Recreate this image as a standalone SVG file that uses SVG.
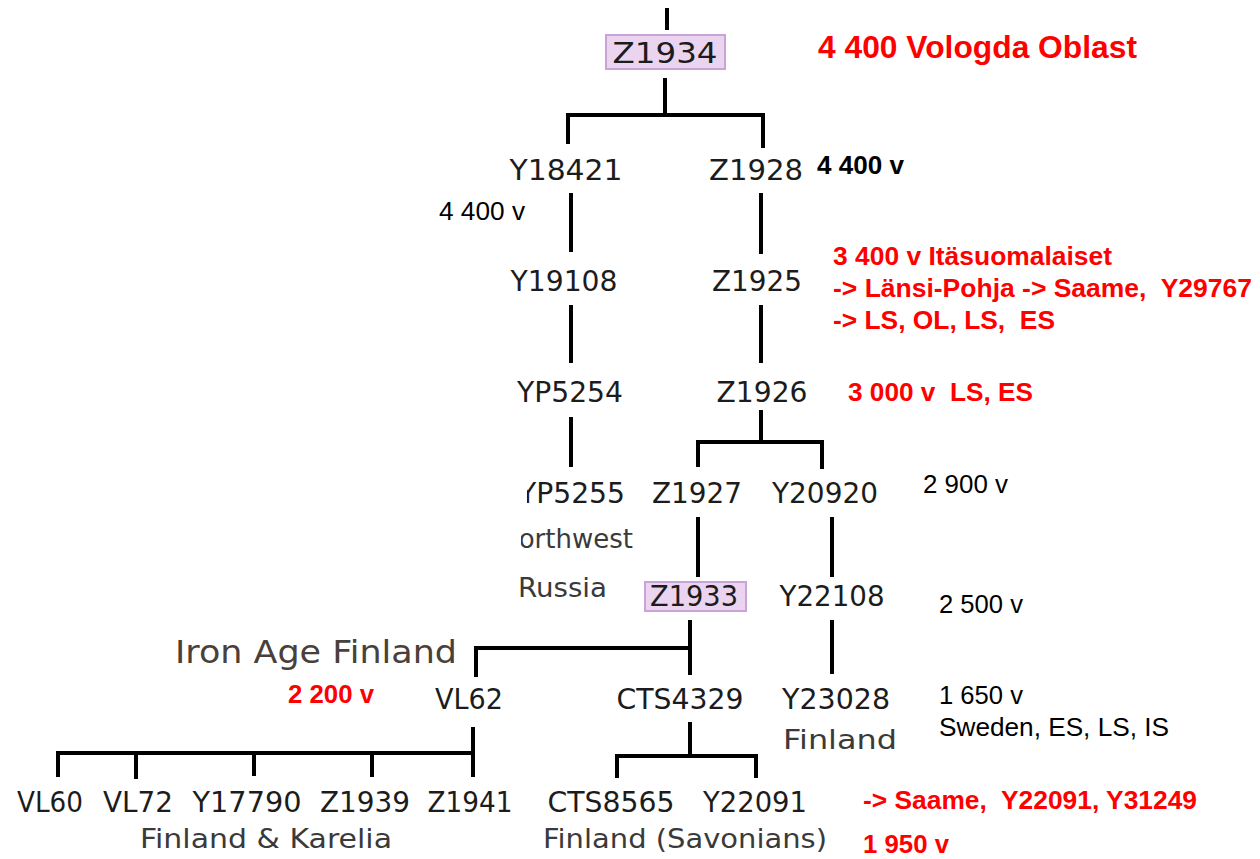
<svg xmlns="http://www.w3.org/2000/svg" width="1260" height="859" viewBox="0 0 1260 859" xml:space="preserve">
<style>
.n{font-family:"DejaVu Sans",sans-serif;font-size:29px;fill:#1c1c1c;text-anchor:middle}
.g{font-family:"DejaVu Sans",sans-serif;font-size:26px;fill:#3a3a3a}
.ia{font-family:"DejaVu Sans",sans-serif;font-size:32px;fill:#4a403a}
.k{font-family:"Liberation Sans",Arial,sans-serif;font-size:25px;fill:#000}
.kb{font-family:"Liberation Sans",Arial,sans-serif;font-size:25px;font-weight:bold;fill:#000}
.r{font-family:"Liberation Sans",Arial,sans-serif;font-size:25px;font-weight:bold;fill:#ff0000;white-space:pre}
.c line{stroke:#000;stroke-width:4;stroke-linecap:butt}
.box{fill:#ead4ef;stroke:#caa4d8;stroke-width:2}
</style>
<defs>
<clipPath id="clipP"><rect x="527" y="470" width="200" height="40"/></clipPath>
<clipPath id="clipN"><rect x="521" y="515" width="200" height="40"/></clipPath>
</defs>
<rect width="1260" height="859" fill="#fff"/>
<g id="connectors" class="c">
<line x1="667" y1="8" x2="667" y2="30"/>
<line x1="665" y1="78" x2="665" y2="115"/>
<line x1="566" y1="115" x2="765" y2="115"/>
<line x1="568" y1="113" x2="568" y2="144"/>
<line x1="763" y1="113" x2="763" y2="148"/>
<line x1="571" y1="193" x2="571" y2="252"/>
<line x1="761" y1="193" x2="761" y2="254"/>
<line x1="571" y1="305" x2="571" y2="363"/>
<line x1="761" y1="305" x2="761" y2="363"/>
<line x1="571" y1="417" x2="571" y2="467"/>
<line x1="761" y1="410" x2="761" y2="442"/>
<line x1="696" y1="442" x2="824" y2="442"/>
<line x1="698" y1="440" x2="698" y2="467"/>
<line x1="822" y1="440" x2="822" y2="469"/>
<line x1="698" y1="517" x2="698" y2="577"/>
<line x1="832" y1="517" x2="832" y2="577"/>
<line x1="690" y1="620" x2="690" y2="675"/>
<line x1="474" y1="648" x2="692" y2="648"/>
<line x1="476" y1="646" x2="476" y2="677"/>
<line x1="832" y1="620" x2="832" y2="674"/>
<line x1="473" y1="727" x2="473" y2="777"/>
<line x1="56" y1="753" x2="473" y2="753"/>
<line x1="58" y1="751" x2="58" y2="777"/>
<line x1="136" y1="753" x2="136" y2="779"/>
<line x1="254" y1="753" x2="254" y2="776"/>
<line x1="372" y1="753" x2="372" y2="777"/>
<line x1="690" y1="722" x2="690" y2="756"/>
<line x1="615" y1="756" x2="758" y2="756"/>
<line x1="617" y1="754" x2="617" y2="778"/>
<line x1="756" y1="754" x2="756" y2="778"/>
</g>
<g id="node-Z1934"><rect class="box" x="606" y="35" width="119" height="34"/><text class="n" x="665" y="63" textLength="105" lengthAdjust="spacingAndGlyphs">Z1934</text></g>
<g id="node-Y18421"><text class="n" x="566" y="180" textLength="113" lengthAdjust="spacingAndGlyphs">Y18421</text></g>
<g id="node-Z1928"><text class="n" x="756" y="180" textLength="94" lengthAdjust="spacingAndGlyphs">Z1928</text></g>
<g id="node-Y19108"><text class="n" x="564" y="291" textLength="107" lengthAdjust="spacingAndGlyphs">Y19108</text></g>
<g id="node-Z1925"><text class="n" x="757" y="291" textLength="90" lengthAdjust="spacingAndGlyphs">Z1925</text></g>
<g id="node-YP5254"><text class="n" x="570" y="402" textLength="106" lengthAdjust="spacingAndGlyphs">YP5254</text></g>
<g id="node-Z1926"><text class="n" x="762" y="402" textLength="91" lengthAdjust="spacingAndGlyphs">Z1926</text></g>
<g id="node-YP5255"><g clip-path="url(#clipP)"><text class="n" x="572" y="503" textLength="106" lengthAdjust="spacingAndGlyphs">YP5255</text></g><g clip-path="url(#clipN)"><text class="g" x="633" y="548" text-anchor="end">Northwest</text></g><text class="g" x="518" y="597" textLength="89" lengthAdjust="spacingAndGlyphs">Russia</text></g>
<g id="node-Z1927"><text class="n" x="697" y="503" textLength="90" lengthAdjust="spacingAndGlyphs">Z1927</text></g>
<g id="node-Y20920"><text class="n" x="825" y="503" textLength="106" lengthAdjust="spacingAndGlyphs">Y20920</text></g>
<g id="node-Z1933"><rect class="box" x="645" y="582" width="101" height="29"/><text class="n" x="694" y="606" textLength="88" lengthAdjust="spacingAndGlyphs">Z1933</text></g>
<g id="node-Y22108"><text class="n" x="832" y="606" textLength="105" lengthAdjust="spacingAndGlyphs">Y22108</text></g>
<g id="label-IronAge"><text class="ia" x="175" y="663" textLength="282" lengthAdjust="spacingAndGlyphs">Iron Age Finland</text></g>
<g id="node-VL62"><text class="n" x="469" y="709" textLength="68" lengthAdjust="spacingAndGlyphs">VL62</text></g>
<g id="node-CTS4329"><text class="n" x="680" y="709" textLength="127" lengthAdjust="spacingAndGlyphs">CTS4329</text></g>
<g id="node-Y23028"><text class="n" x="836" y="709" textLength="108" lengthAdjust="spacingAndGlyphs">Y23028</text><text class="g" x="783" y="749" textLength="114" lengthAdjust="spacingAndGlyphs">Finland</text></g>
<g id="node-VL60"><text class="n" x="50" y="812" textLength="66" lengthAdjust="spacingAndGlyphs">VL60</text></g>
<g id="node-VL72"><text class="n" x="138" y="812" textLength="70" lengthAdjust="spacingAndGlyphs">VL72</text></g>
<g id="node-Y17790"><text class="n" x="247" y="812" textLength="109" lengthAdjust="spacingAndGlyphs">Y17790</text></g>
<g id="node-Z1939"><text class="n" x="365" y="812" textLength="90" lengthAdjust="spacingAndGlyphs">Z1939</text></g>
<g id="node-Z1941"><text class="n" x="470" y="812" textLength="85" lengthAdjust="spacingAndGlyphs">Z1941</text></g>
<g id="label-FinKar"><text class="g" x="140" y="848" textLength="252" lengthAdjust="spacingAndGlyphs">Finland &amp; Karelia</text></g>
<g id="node-CTS8565"><text class="n" x="611" y="812" textLength="127" lengthAdjust="spacingAndGlyphs">CTS8565</text></g>
<g id="node-Y22091"><text class="n" x="755" y="812" textLength="104" lengthAdjust="spacingAndGlyphs">Y22091</text></g>
<g id="label-Savo"><text class="g" x="543" y="848" textLength="284" lengthAdjust="spacingAndGlyphs">Finland (Savonians)</text></g>
<g id="annotations">
<text class="r" x="818" y="58" style="font-size:31px" textLength="319" lengthAdjust="spacingAndGlyphs">4 400 Vologda Oblast</text>
<text class="kb" x="817" y="174" textLength="87" lengthAdjust="spacingAndGlyphs">4 400 v</text>
<text class="k" x="439" y="220" textLength="86" lengthAdjust="spacingAndGlyphs">4 400 v</text>
<text class="r" x="833" y="265" textLength="279" lengthAdjust="spacingAndGlyphs">3 400 v Itäsuomalaiset</text>
<text class="r" x="833" y="297" textLength="419" lengthAdjust="spacingAndGlyphs">-&gt; Länsi-Pohja -&gt; Saame,  Y29767</text>
<text class="r" x="833" y="329" textLength="222" lengthAdjust="spacingAndGlyphs">-&gt; LS, OL, LS,  ES</text>
<text class="r" x="848" y="401" textLength="185" lengthAdjust="spacingAndGlyphs">3 000 v  LS, ES</text>
<text class="k" x="923" y="493" textLength="85" lengthAdjust="spacingAndGlyphs">2 900 v</text>
<text class="k" x="939" y="613" textLength="84" lengthAdjust="spacingAndGlyphs">2 500 v</text>
<text class="r" x="288" y="703" textLength="86" lengthAdjust="spacingAndGlyphs">2 200 v</text>
<text class="k" x="939" y="704" textLength="84" lengthAdjust="spacingAndGlyphs">1 650 v</text>
<text class="k" x="939" y="736" textLength="230" lengthAdjust="spacingAndGlyphs">Sweden, ES, LS, IS</text>
<text class="r" x="863" y="809" textLength="334" lengthAdjust="spacingAndGlyphs">-&gt; Saame,  Y22091, Y31249</text>
<text class="r" x="863" y="853" textLength="86" lengthAdjust="spacingAndGlyphs">1 950 v</text>
</g>
</svg>
